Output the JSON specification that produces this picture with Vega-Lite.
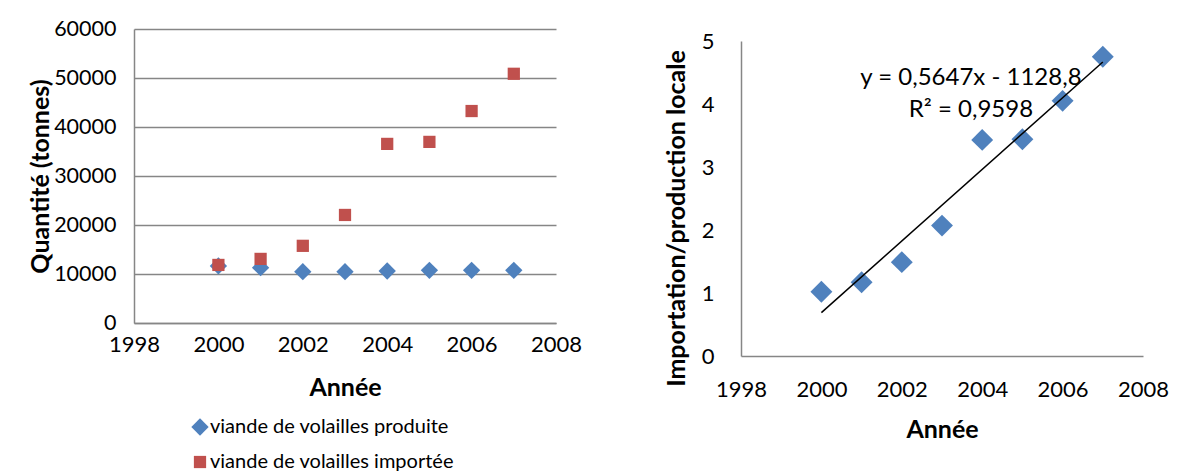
{
  "$schema": "https://vega.github.io/schema/vega-lite/v6.json",
  "background": "white",
  "padding": {"left": 28, "top": 18, "right": 5, "bottom": 0},
  "spacing": 82,
  "config": {
    "font": "Lato",
    "view": {"stroke": null},
    "axis": {
      "domainColor": "#868686",
      "domainWidth": 1.5,
      "gridColor": "#868686",
      "gridWidth": 1.5,
      "ticks": false,
      "labelFlush": false,
      "labelOverlap": false,
      "labelColor": "black",
      "titleColor": "black",
      "titleFontWeight": "bold",
      "labelFont": "Lato",
      "titleFont": "Lato"
    }
  },
  "datasets": {
    "quantites": [
      {"annee": 2000, "serie": "viande de volailles produite", "quantite": 11640},
      {"annee": 2001, "serie": "viande de volailles produite", "quantite": 11300},
      {"annee": 2002, "serie": "viande de volailles produite", "quantite": 10470},
      {"annee": 2003, "serie": "viande de volailles produite", "quantite": 10470},
      {"annee": 2004, "serie": "viande de volailles produite", "quantite": 10610},
      {"annee": 2005, "serie": "viande de volailles produite", "quantite": 10750},
      {"annee": 2006, "serie": "viande de volailles produite", "quantite": 10750},
      {"annee": 2007, "serie": "viande de volailles produite", "quantite": 10750},
      {"annee": 2000, "serie": "viande de volailles importée", "quantite": 11850},
      {"annee": 2001, "serie": "viande de volailles importée", "quantite": 13080},
      {"annee": 2002, "serie": "viande de volailles importée", "quantite": 15750},
      {"annee": 2003, "serie": "viande de volailles importée", "quantite": 22050},
      {"annee": 2004, "serie": "viande de volailles importée", "quantite": 36550},
      {"annee": 2005, "serie": "viande de volailles importée", "quantite": 36960},
      {"annee": 2006, "serie": "viande de volailles importée", "quantite": 43260},
      {"annee": 2007, "serie": "viande de volailles importée", "quantite": 50860}
    ],
    "rapport": [
      {"annee": 2000, "ratio": 1.02},
      {"annee": 2001, "ratio": 1.17},
      {"annee": 2002, "ratio": 1.49},
      {"annee": 2003, "ratio": 2.07},
      {"annee": 2004, "ratio": 3.43},
      {"annee": 2005, "ratio": 3.44},
      {"annee": 2006, "ratio": 4.05},
      {"annee": 2007, "ratio": 4.75}
    ],
    "annotation": [
      {"ligne": "y = 0,5647x - 1128,8"}
    ],
    "annotation2": [
      {"ligne": "R² = 0,9598"}
    ]
  },
  "hconcat": [
    {
      "width": 422,
      "height": 294,
      "data": {"name": "quantites"},
      "mark": {"type": "point", "filled": true, "opacity": 1},
      "encoding": {
        "x": {
          "field": "annee", "type": "quantitative",
          "scale": {"domain": [1998, 2008], "nice": false, "zero": false},
          "axis": {"values": [1998, 2000, 2002, 2004, 2006, 2008], "format": "d", "grid": false,
                   "title": "Année", "labelFontSize": 22, "titleFontSize": 25,
                   "labelPadding": 11, "titlePadding": 20}
        },
        "y": {
          "field": "quantite", "type": "quantitative",
          "scale": {"domain": [0, 60000], "nice": false},
          "axis": {"values": [0, 10000, 20000, 30000, 40000, 50000, 60000], "format": "d", "grid": true,
                   "title": "Quantité (tonnes)", "labelFontSize": 21.5, "titleFontSize": 25,
                   "labelPadding": 18, "titlePadding": 0}
        },
        "color": {
          "field": "serie", "type": "nominal",
          "scale": {"domain": ["viande de volailles produite", "viande de volailles importée"], "range": ["#4F81BD", "#C0504D"]},
          "legend": {"title": null, "orient": "none", "legendX": 56, "legendY": 388, "direction": "vertical",
                     "labelFontSize": 20, "labelLimit": 0, "symbolSize": 120, "rowPadding": 15,
                     "symbolStrokeWidth": 0, "labelOffset": 0}
        },
        "shape": {
          "field": "serie", "type": "nominal",
          "scale": {"domain": ["viande de volailles produite", "viande de volailles importée"], "range": ["diamond", "square"]}
        },
        "size": {
          "field": "serie", "type": "nominal",
          "scale": {"domain": ["viande de volailles produite", "viande de volailles importée"], "range": [300, 150]},
          "legend": null
        },
        "order": {"field": "serie", "sort": "descending"}
      }
    },
    {
      "width": 402,
      "height": 327,
      "layer": [
        {
          "data": {"name": "rapport"},
          "mark": {"type": "point", "filled": true, "shape": "diamond", "size": 480, "color": "#4F81BD", "opacity": 1},
          "encoding": {
            "x": {
              "field": "annee", "type": "quantitative",
              "scale": {"domain": [1998, 2008], "nice": false, "zero": false},
              "axis": {"values": [1998, 2000, 2002, 2004, 2006, 2008], "format": "d", "grid": false,
                       "title": "Année", "labelFontSize": 22, "titleFontSize": 25,
                       "labelPadding": 23, "titlePadding": 17}
            },
            "y": {
              "field": "ratio", "type": "quantitative",
              "scale": {"domain": [0, 5], "nice": false, "range": [327, 12]},
              "axis": {"values": [0, 1, 2, 3, 4, 5], "format": "d", "grid": false,
                       "title": "Importation/production locale", "labelFontSize": 22, "titleFontSize": 25,
                       "labelPadding": 27, "titlePadding": 12, "titleY": 189}
            }
          }
        },
        {
          "data": {"name": "rapport"},
          "transform": [{"regression": "ratio", "on": "annee"}],
          "mark": {"type": "line", "color": "black", "strokeWidth": 1.5},
          "encoding": {
            "x": {"field": "annee", "type": "quantitative"},
            "y": {"field": "ratio", "type": "quantitative"}
          }
        },
        {
          "data": {"name": "annotation"},
          "mark": {"type": "text", "fontSize": 24, "align": "center", "baseline": "middle", "color": "black"},
          "encoding": {
            "x": {"datum": 2003.72, "type": "quantitative"},
            "y": {"datum": 4.42, "type": "quantitative"},
            "text": {"field": "ligne", "type": "nominal"}
          }
        },
        {
          "data": {"name": "annotation2"},
          "mark": {"type": "text", "fontSize": 24, "align": "center", "baseline": "middle", "color": "black"},
          "encoding": {
            "x": {"datum": 2003.72, "type": "quantitative"},
            "y": {"datum": 3.9, "type": "quantitative"},
            "text": {"field": "ligne", "type": "nominal"}
          }
        }
      ]
    }
  ]
}
